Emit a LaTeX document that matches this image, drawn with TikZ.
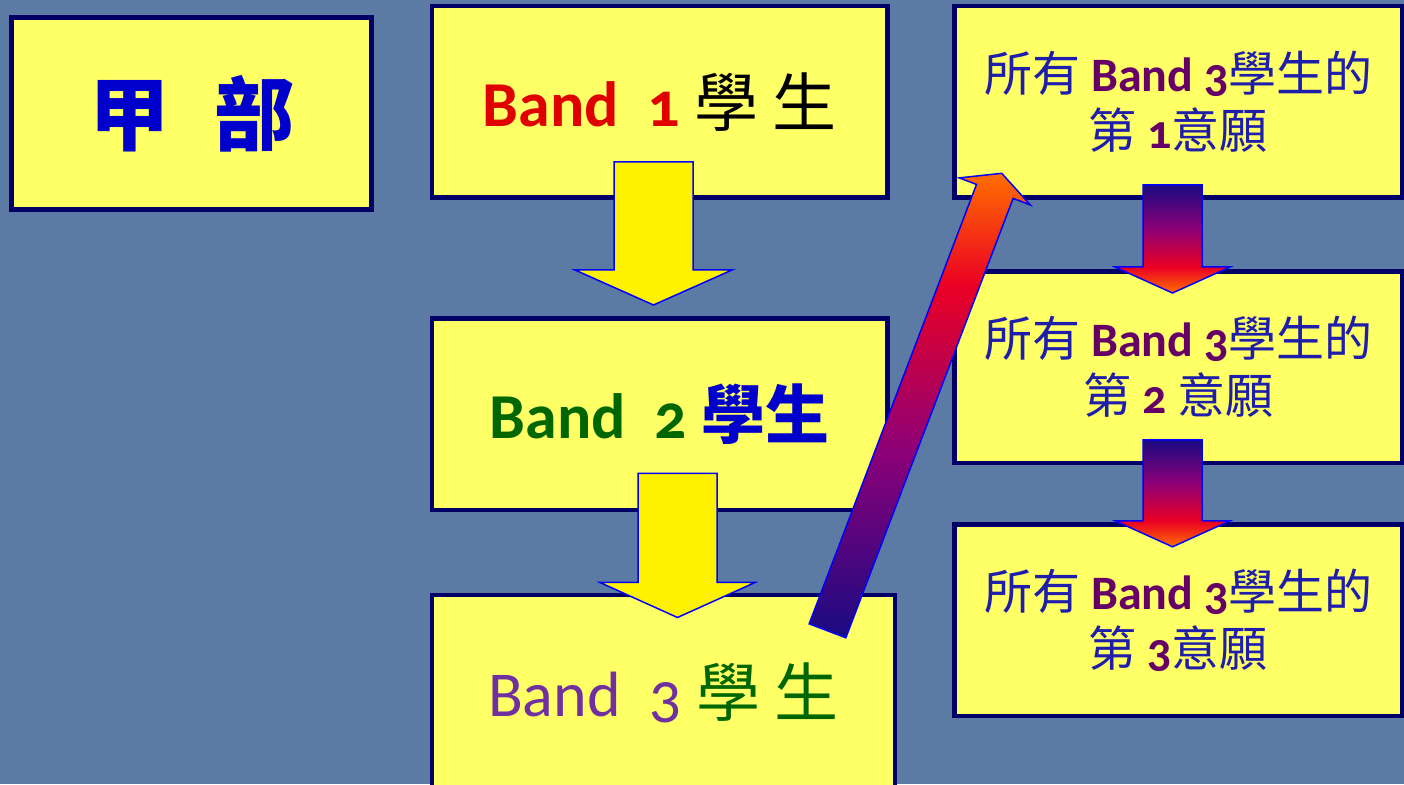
\documentclass[tikz,border=0pt]{standalone}
\usepackage{fontspec}
\setmainfont{Carlito}[Numbers=OldStyle]
\newfontfamily\cjk{Noto Sans CJK TC}
\usetikzlibrary{positioning,calc}

\definecolor{bgblue}{RGB}{91,123,164}
\definecolor{boxfill}{RGB}{255,255,102}
\definecolor{boxline}{RGB}{0,0,102}
\definecolor{bandred}{RGB}{224,0,0}
\definecolor{bandgreen}{RGB}{0,102,0}
\definecolor{bandviolet}{RGB}{112,48,160}
\definecolor{zhblue}{RGB}{0,0,204}
\definecolor{prefblue}{RGB}{30,30,170}
\definecolor{prefpurple}{RGB}{102,0,102}
\definecolor{arrorange}{RGB}{255,110,0}
\definecolor{arrred}{RGB}{235,0,35}
\definecolor{arrpurple}{RGB}{140,0,120}
\definecolor{arrnavy}{RGB}{25,10,130}

\pgfdeclareverticalshading{prefgrad}{100bp}{color(0bp)=(arrorange); color(25bp)=(arrorange);
  color(37bp)=(arrred); color(55bp)=(arrpurple); color(75bp)=(arrnavy); color(100bp)=(arrnavy)}

% block arrow: style, tail, tip, half shaft, half head, head length
\newcommand\blockarrow[6]{%
  \coordinate (ab) at ($(#3)!#6!(#2)$);
  \path[#1] ($(#2)!#4!90:(#3)$) -- ($(ab)!#4!90:(#3)$) -- ($(ab)!#5!90:(#3)$) -- (#3)
    -- ($(ab)!#5!-90:(#3)$) -- ($(ab)!#4!-90:(#3)$) -- ($(#2)!#4!-90:(#3)$) -- cycle;
}
\newcommand\zh[1]{\textcolor{prefblue}{\cjk #1}}
\newcommand\lat[1]{\textcolor{prefpurple}{\bfseries #1}}

\begin{document}
\begin{tikzpicture}[x=1pt, y=1pt,
    stage/.style={draw=boxline, line width=4.5pt, fill=boxfill, inner sep=0pt, outer sep=0pt,
                  minimum width=455.5pt, minimum height=191.5pt,
                  font=\fontsize{64}{70}\selectfont},
    choice/.style={stage, minimum width=447.3pt, align=center,
                   font=\fontsize{48}{57}\selectfont},
    yarrow/.style={fill=yellow, draw=blue, line width=1.5pt},
    garrow/.style={shade, shading=prefgrad, draw=blue, line width=1.5pt}
  ]
  \useasboundingbox (0,0) rectangle (1404,784);
  \fill[bgblue] (0,0) rectangle (1404,784);

  \node[stage, minimum width=359.8pt, minimum height=192pt, font=\fontsize{80}{84}\selectfont]
    (jia) at (191.6,670.5) {\textcolor{zhblue}{\cjk\bfseries 甲\hspace{45pt}部}};

  \node[stage] (band1) at (659.75,682.25) {\textcolor{bandred}{\bfseries Band~~1} {\cjk 學 生}};
  \node[stage, below=121pt of band1] (band2)
    {\textcolor{bandgreen}{\bfseries Band~~2} \textcolor{zhblue}{\cjk\bfseries 學生}};
  \node[stage, minimum width=463pt, minimum height=196pt, below right=85pt and 0pt of band2.south west] (band3)
    {\textcolor{bandviolet}{Band~~3} \textcolor{bandgreen}{\cjk 學 生}};

  \node[choice, right=67.2pt of band1] (pref1) {\zh{所有} \lat{Band 3}\zh{學生的}\\\zh{第} \lat{1}\zh{意願}};
  \node[choice, below=73.8pt of pref1] (pref2) {\zh{所有} \lat{Band 3}\zh{學生的}\\\zh{第} \lat{2} \zh{意願}};
  \node[choice, below=61.5pt of pref2] (pref3) {\zh{所有} \lat{Band 3}\zh{學生的}\\\zh{第} \lat{3}\zh{意願}};

  % yellow arrows
  \coordinate (a1t) at ($(band1.south)+(-6.25,35.5)$);
  \coordinate (a1h) at ($(band2.north)+(-6.25,13.5)$);
  \blockarrow{yarrow}{a1t}{a1h}{39.5pt}{78.5pt}{35pt}
  \coordinate (a2t) at ($(band2.south)+(17.75,36.5)$);
  \coordinate (a2h) at ($(band3.north)+(14,-22.5)$);
  \blockarrow{yarrow}{a2t}{a2h}{39.5pt}{77.5pt}{35pt}

  % gradient arrows
  \coordinate (r1t) at ($(pref1.south)+(-5.85,12.5)$);
  \coordinate (r1h) at ($(pref2.north)+(-5.85,-21.7)$);
  \blockarrow{garrow}{r1t}{r1h}{29.5pt}{57.5pt}{26pt}
  \coordinate (r2t) at ($(pref2.south)+(-5.85,23)$);
  \coordinate (r2h) at ($(pref3.north)+(-5.85,-22.5)$);
  \blockarrow{garrow}{r2t}{r2h}{29.5pt}{57.5pt}{26pt}
  \coordinate (dt) at ($(band3.north east)+(-67.5,-35.8)$);
  \coordinate (dh) at ($(pref1.south west)+(47,24.2)$);
  \blockarrow{garrow, shading angle=180}{dt}{dh}{19.6pt}{38pt}{19.4pt}
\end{tikzpicture}
\end{document}
